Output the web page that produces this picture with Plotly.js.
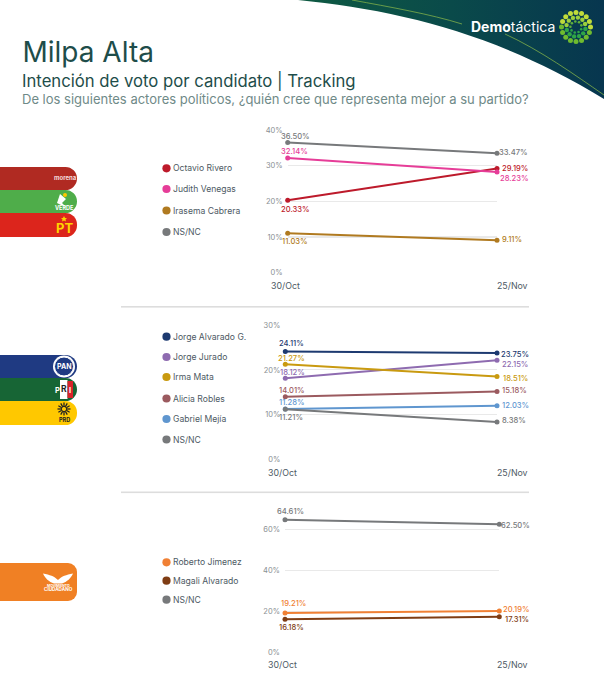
<!DOCTYPE html>
<html><head><meta charset="utf-8">
<script src="https://cdn.plot.ly/plotly-3.0.1.min.js"></script>
<style>html,body{margin:0;padding:0;background:#fff}#c{width:604px;height:680px}</style>
</head><body><div id="c"></div>
<script>
const dates = ['30/Oct','25/Nov'];
const FONT = 'Inter, "Open Sans", sans-serif';
const W = 604, H = 680;

// Panel 1
const names1 = ['Octavio Rivero','Judith Venegas','Irasema Cabrera','NS/NC'];
const values1 = [[20.33,29.19],[32.14,28.23],[11.03,9.11],[36.50,33.47]];
const colors1 = ['#bd1a2b','#e63d98','#b07a20','#77797b'];
const offs1 = [[[8,-9],[18,0.5]],[[7,7],[17.5,-7]],[[7,-8.6],[15,0.7]],[[8,6],[16,1]]];
// Panel 2
const names2 = ['Jorge Alvarado G.','Jorge Jurado','Irma Mata','Alicia Robles','Gabriel Mejía','NS/NC'];
const values2 = [[24.11,23.75],[18.12,22.15],[21.27,18.51],[14.01,15.18],[11.28,12.03],[11.21,8.38]];
const colors2 = ['#1d3a70','#8e6bb0','#c99a10','#9b5a5f','#5f96cf','#77797b'];
const offs2 = [[[6.4,8],[17.7,-1.3]],[[7,5.6],[18,-4]],[[6.4,6],[18.7,-2.4]],[[7,6.5],[17.7,1.5]],[[7,6.3],[18,0]],[[6,-8.3],[17,1.7]]];
// Panel 3
const names3 = ['Roberto Jimenez','Magali Alvarado','NS/NC'];
const values3 = [[19.21,20.19],[16.18,17.31],[64.61,62.50]];
const colors3 = ['#f08034','#7f3d14','#77797b'];
const offs3 = [[[8,9],[17.4,1]],[[6,-8],[17.4,-3]],[[5.7,8],[16.5,-1]]];

const panels = [
 {names:names1,values:values1,colors:colors1,offs:offs1,xp:[287.7,497],yp:[130,272.7],range:[0,40],dtick:10,legY:[168.3,189,210.5,232]},
 {names:names2,values:values2,colors:colors2,offs:offs2,xp:[285.3,497],yp:[325,459.7],range:[0,30],dtick:10,legY:[336.7,357,377,398.5,419,439.5]},
 {names:names3,values:values3,colors:colors3,offs:offs3,xp:[285,499.3],yp:[508.8,652.3],range:[0,70],dtick:20,legY:[562.3,580.7,599.7]}
];

const px = x => x/W, py = y => 1-y/H;
const traces = [], annotations = [], shapes = [];
const layout = {
  width:W,height:H,margin:{l:0,r:0,t:0,b:0},paper_bgcolor:'#fff',plot_bgcolor:'rgba(0,0,0,0)',showlegend:false,
  font:{family:FONT},
  title:{text:'Milpa Alta',x:px(22.5),xanchor:'left',xref:'paper',y:py(52.5),yanchor:'middle',yref:'paper',font:{family:FONT,size:28,color:'#1e4d4a'}}
};
function txt(text,x,y,size,color,anchor,extra){
  annotations.push(Object.assign({text,xref:'paper',yref:'paper',x:px(x),y:py(y),xanchor:anchor||'left',yanchor:'middle',showarrow:false,borderpad:0,font:{family:FONT,size,color}},extra||{}));
}
panels.forEach((p,i)=>{
  const n = i+1, xa = 'xaxis'+(i?n:''), ya='yaxis'+(i?n:''), xr='x'+(i?n:''), yr='y'+(i?n:'');
  layout[xa] = {type:'category',categoryorder:'array',categoryarray:dates,range:[0,1],domain:[px(p.xp[0]),px(p.xp[1])],anchor:yr,showgrid:false,zeroline:false,showline:false,showticklabels:false,ticks:'',fixedrange:true};
  layout[ya] = {range:p.range,domain:[py(p.yp[1]),py(p.yp[0])],anchor:xr,dtick:p.dtick,ticksuffix:'%',tickfont:{family:FONT,size:7.5,color:'#8a8f93'},gridcolor:'#e9e9e9',gridwidth:1.2,zeroline:false,showline:false,ticks:'',ticklabelstandoff:4,fixedrange:true};
  p.names.forEach((name,k)=>{
    traces.push({type:'scatter',mode:'lines+markers',name,x:dates,y:p.values[k],xaxis:xr,yaxis:yr,cliponaxis:false,line:{color:p.colors[k],width:2},marker:{color:p.colors[k],size:5}});
    p.values[k].forEach((v,j)=>{
      annotations.push({text:v.toFixed(2)+'%',xref:xr,yref:yr,x:j,y:v,xanchor:'center',yanchor:'middle',showarrow:false,xshift:p.offs[k][j][0],yshift:p.offs[k][j][1],font:{family:FONT,size:7.6,color:p.colors[k],weight:500}});
    });
    const ly = p.legY[k];
    shapes.push({type:'circle',xref:'paper',yref:'paper',x0:px(162.4),x1:px(170.6),y0:py(ly+4.1),y1:py(ly-4.1),fillcolor:p.colors[k],line:{width:0}});
    txt(name,172,ly,8.6,'#4d5963');
  });
  annotations.push({text:dates[0],xref:xr,yref:yr,x:0,y:0,xanchor:'center',yanchor:'middle',showarrow:false,xshift:-2.5,yshift:-12.5,font:{family:FONT,size:8.8,color:'#4d5963'}});
  annotations.push({text:dates[1],xref:xr,yref:yr,x:1,y:0,xanchor:'center',yanchor:'middle',showarrow:false,xshift:512.5-p.xp[1],yshift:-12.5,font:{family:FONT,size:8.8,color:'#4d5963'}});
});
layout.annotations = annotations;

// header text
txt('Intención de voto por candidato | Tracking',21,80.5,16.7,'#1e4d4a');
txt('De los siguientes actores políticos, ¿quién cree que representa mejor a su partido?',21,99,13,'#6f8a88');
txt('<b>Demo</b>táctica',470,27,14,'#ffffff');

// decorative artwork (swoosh, party tabs, logo rosette)
let rosette='';
[[14.5,16,'#6fbb2f','#c0dc3a',2.5],[9.6,12,'#2fa547','#9ccf3c',2.2],[5.6,9,'#2fa547','#5fb13a',1.3]].forEach((r,ri)=>{
  for(let a=0;a<r[1];a++){
    const t=a/r[1]*2*Math.PI+ri*0.2;
    rosette+=`<circle cx="${576+r[0]*Math.cos(t)}" cy="${27+r[0]*Math.sin(t)}" r="${r[4]}" fill="${Math.sin(t)>0?r[2]:r[3]}"/>`;
  }
});
let sun='';
for(let a=0;a<12;a++){const t=a/12*2*Math.PI;sun+=`<line x1="64" y1="409" x2="${64+6.5*Math.cos(t)}" y2="${409+6.5*Math.sin(t)}" stroke="#222" stroke-width="1.3"/>`;}
const tab=(y0,y1,r,c)=>`<path d="M0 ${y0}H${77-r}A${r} ${r} 0 0 1 77 ${y0+r}V${y1-r}A${r} ${r} 0 0 1 ${77-r} ${y1}H0Z" fill="${c}"/>`;
const svg=`<svg xmlns="http://www.w3.org/2000/svg" width="604" height="680" viewBox="0 0 604 680">
<defs><linearGradient id="g" x1="0" x2="1" y1="0" y2="0"><stop offset="0" stop-color="#0e5a42"/><stop offset="0.5" stop-color="#0a4a4a"/><stop offset="1" stop-color="#07364f"/></linearGradient></defs>
<path d="M298 0C400 10 500 35 604 99V0Z" fill="url(#g)"/>
<path d="M352 0C390 7 430 14 462 24" fill="none" stroke="#7fae4a" stroke-width="0.8"/>
<path d="M505 34C540 50 575 75 604 95" fill="none" stroke="#7fae4a" stroke-width="0.8"/>
${rosette}
<rect x="121" y="306" width="408" height="1.6" fill="#dddddd"/>
<rect x="121" y="491.5" width="408" height="1.6" fill="#dddddd"/>
${tab(213,237,11.5,'#dc251c')}${tab(190,213,11.5,'#4fad4a')}${tab(167,190,11.5,'#b02a22')}
${tab(401,425,11.5,'#ffc800')}${tab(378,401,11.5,'#176535')}${tab(355,378,11.5,'#1f3a82')}
${tab(563,601,9,'#f08024')}
<path d="M60 194L66 199L62 203L66 207L61 205L57 203Z" fill="#fff"/><circle cx="65" cy="195" r="2" fill="#ffc800"/>
<path d="M64 219l1 2 2 .2-1.5 1.4.4 2-1.9-1-1.9 1 .4-2-1.500-1.400 2-.2Z" fill="#ffd400" transform="translate(0 -3)"/>
<circle cx="64" cy="366.500" r="11" fill="#fff"/><circle cx="64" cy="366.500" r="9.500" fill="#1f3a82" stroke="#fff" stroke-width="1"/>
<circle cx="64" cy="389.500" r="11" fill="#176535"/><rect x="60" y="380" width="7.500" height="19" fill="#fff"/><rect x="67.500" y="381" width="5.500" height="17" fill="#d8232a"/>
${sun}<circle cx="64" cy="409" r="2.600" fill="#ffc800" stroke="#222" stroke-width="1"/>
<path d="M43 573.500C50 575 54 576 58 580C62 576 66 575 73 573.500C71 578 67 582 62 583.500H54C49 582 45 578 43 573.500Z" fill="#fff"/>
</svg>`;
layout.images=[{source:'data:image/svg+xml;charset=utf-8,'+encodeURIComponent(svg),xref:'paper',yref:'paper',x:0,y:1,sizex:1,sizey:1,sizing:'stretch',xanchor:'left',yanchor:'top',layer:'below'}];
// party marks
txt('<b>morena</b>',65,177.5,6,'#f4dcdc','center');
txt('<b>VERDE</b>',64,207.5,5.5,'#fff','center');
txt('<b>PT</b>',64,228,13,'#ffd400','center');
txt('<b>PAN</b>',64,366.5,7,'#fff','center');
txt('<b>R</b>',63.7,389,8.5,'#222','center');
txt('<b>P</b>',57,390,7.5,'#fff','center');
txt('<b>I</b>',70,390,7.5,'#fff','center');
txt('<b>PRD</b>',64,419.5,5.5,'#222','center');
txt('<b>MOVIMIENTO</b>',58,585.5,3.4,'#fff','center');
txt('<b>CIUDADANO</b>',58,589.8,4.6,'#fff','center');
layout.shapes=shapes;
Plotly.newPlot('c',traces,layout,{displayModeBar:false,staticPlot:true});
</script></body></html>
